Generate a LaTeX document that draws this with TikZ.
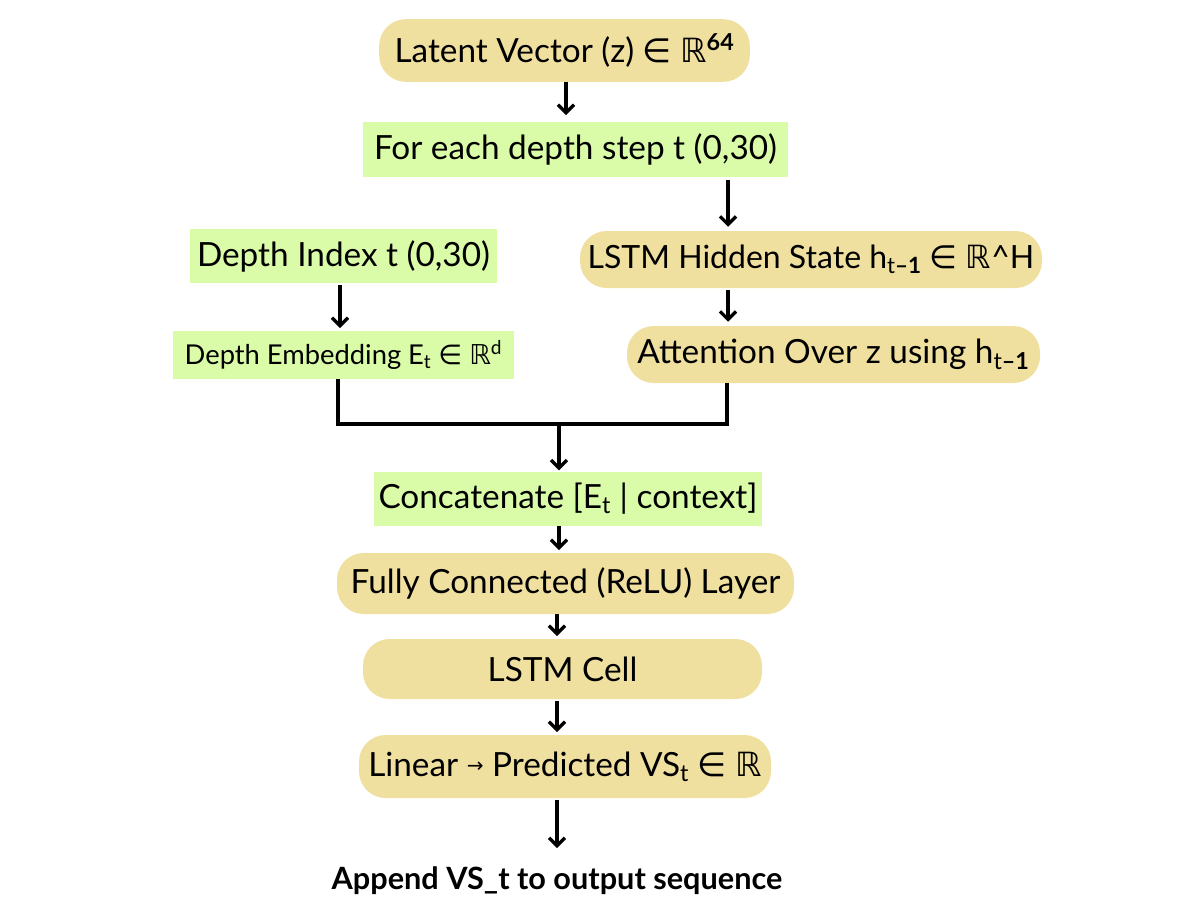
\documentclass[tikz,border=0pt]{standalone}
\usepackage{fontspec}
\setmainfont{Lato}
\newfontfamily\symf{DejaVu Sans}
\usetikzlibrary{arrows.meta}
\definecolor{tanfill}{RGB}{240,224,160}
\definecolor{lgreen}{RGB}{218,252,168}
\newcommand{\bigtxt}{\fontsize{25}{29}\selectfont}
\newcommand{\midtxt}{\fontsize{20.5}{24}\selectfont}
\newcommand{\elem}{{\symf ∈}}
\newcommand{\reals}{{\symf ℝ}}
\begin{document}
\begin{tikzpicture}[x=0.75pt,y=-0.75pt,
  pill/.style={fill=tanfill, rounded corners=20pt, inner sep=0pt, font=\bigtxt, text=black},
  gbox/.style={fill=lgreen, inner sep=0pt, font=\bigtxt, text=black},
  arr/.style={line width=2.5pt, -{Straight Barb[length=6pt,width=12pt,line width=2.5pt]}},
  wire/.style={line width=2.5pt}]
\useasboundingbox (0,0) rectangle (1202,911);
\fill[white] (0,0) rectangle (1202,911);

\node[pill, minimum width=278pt, minimum height=47pt] (latent) at (564.5,50.5) {Latent Vector (z) \elem\ \reals\textsuperscript{\textbf{64}}};
\node[gbox, minimum width=318.75pt, minimum height=41.25pt] (foreach) at (575.5,149.5) {For each depth step t (0,30)};
\node[gbox, minimum width=230pt, minimum height=40.5pt] (dindex) at (343.5,256) {Depth Index t (0,30)};
\node[pill, minimum width=346.5pt, minimum height=42.75pt, font=\fontsize{24}{28}\selectfont] (hidden) at (811,259.5) {LSTM Hidden State h\textsubscript{t\textbf{--1}} \elem\ \reals\^{}H};
\node[gbox, minimum width=255.75pt, minimum height=36pt, font=\midtxt] (demb) at (343.5,355) {Depth Embedding E\textsubscript{t} \elem\ \reals\textsuperscript{d}};
\node[pill, minimum width=309.75pt, minimum height=42.75pt] (attn) at (833.5,354.5) {Attention Over z using h\textsubscript{t\textbf{--1}}};
\node[gbox, minimum width=291pt, minimum height=40.5pt] (concat) at (568,499) {Concatenate [E\textsubscript{t} | context]};
\node[pill, minimum width=342.75pt, minimum height=45.75pt] (fc) at (565.5,583.5) {Fully Connected (ReLU) Layer};
\node[pill, minimum width=299.25pt, minimum height=45pt] (cell) at (562.5,669) {LSTM Cell};
\node[pill, minimum width=309pt, minimum height=47.25pt] (linear) at (565,766.5) {Linear \raisebox{0.1em}{\symf\fontsize{15}{18}\selectfont →} Predicted VS\textsubscript{t} \elem\ \reals};
\node[font=\fontsize{23}{27}\selectfont\bfseries, inner sep=0pt] (append) at (557,881) {Append VS\_t to output sequence};

\coordinate (xa) at (566,0);
\coordinate (xb) at (728,0);
\coordinate (xc) at (340,0);
\coordinate (mL) at (338,424);
\coordinate (mR) at (727,424);
\coordinate (mC) at (559,424);
\coordinate (xd) at (557,0);

\draw[arr, shorten >=5pt] (latent.south -| xa) -- (foreach.north -| xa);
\draw[arr, shorten <=2pt, shorten >=3pt] (foreach.south -| xb) -- (hidden.north -| xb);
\draw[arr, shorten <=1pt, shorten >=2pt] (dindex.south -| xc) -- (demb.north -| xc);
\draw[arr, shorten <=1pt, shorten >=3pt] (hidden.south -| xb) -- (attn.north -| xb);
\draw[wire, line join=miter] (demb.south -| mL) -- (mL) -- (mR) -- (attn.south -| mR);
\draw[arr, shorten >=1pt] (mC) -- (concat.north -| mC);
\draw[arr, shorten >=2pt] (concat.south -| mC) -- (fc.north -| mC);
\draw[arr, shorten >=2pt] (fc.south -| xd) -- (cell.north -| xd);
\draw[arr, shorten <=1pt, shorten >=2pt] (cell.south -| xd) -- (linear.north -| xd);
\draw[arr, shorten <=1pt, shorten >=14pt] (linear.south -| xd) -- (append.north -| xd);
\end{tikzpicture}
\end{document}
